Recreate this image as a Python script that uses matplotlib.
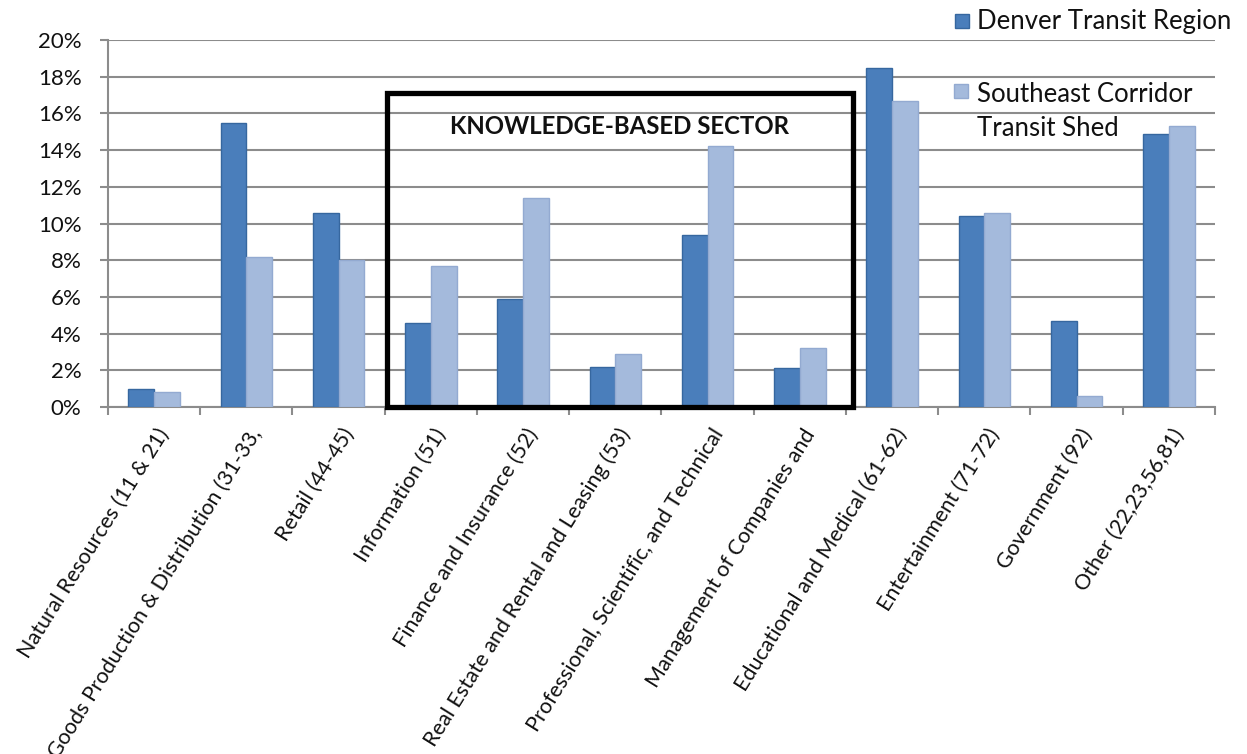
import matplotlib
matplotlib.use("Agg")
import matplotlib.pyplot as plt
from matplotlib.patches import Rectangle
from matplotlib.transforms import ScaledTranslation
import numpy as np

plt.rcParams['font.family'] = ['Lato', 'DejaVu Sans']

categories = [
    "Natural Resources (11 & 21)",
    "Goods Production & Distribution (31-33,",
    "Retail (44-45)",
    "Information (51)",
    "Finance and Insurance (52)",
    "Real Estate and Rental and Leasing (53)",
    "Professional, Scientific, and Technical",
    "Management of Companies and",
    "Educational and Medical (61-62)",
    "Entertainment (71-72)",
    "Government (92)",
    "Other (22,23,56,81)",
]
denver = [1.0, 15.5, 10.6, 4.6, 5.9, 2.2, 9.4, 2.1, 18.5, 10.4, 4.7, 14.9]
southeast = [0.8, 8.2, 8.0, 7.7, 11.4, 2.9, 14.2, 3.2, 16.7, 10.6, 0.6, 15.3]
yticks = [0, 2, 4, 6, 8, 10, 12, 14, 16, 18, 20]
series_names = ["Denver Transit Region", "Southeast Corridor\nTransit Shed"]

dark_fill, dark_edge = "#4a7ebb", "#36679f"
light_fill, light_edge = "#a4badc", "#93aad1"
grid_col = "#8c8c8c"

fig = plt.figure(figsize=(12.47, 7.54), dpi=100)
ax = fig.add_axes([0.0866, 0.4602, 0.8877, 0.4867])

x = np.arange(len(categories))
w = 0.28
ax.bar(x - w / 2, denver, w, color=dark_fill, edgecolor=dark_edge, linewidth=1.0, zorder=3)
ax.bar(x + w / 2, southeast, w, color=light_fill, edgecolor=light_edge, linewidth=1.0, zorder=3)

ax.set_xlim(-0.5, len(categories) - 0.5)
ax.set_ylim(0, 20)
ax.set_yticks(yticks)
ax.set_yticklabels([f"{t}%" for t in yticks], fontsize=16, color="#111111")
ax.yaxis.grid(True, color=grid_col, linewidth=1.5, zorder=0)
ax.set_axisbelow(True)

for s in ["top", "right"]:
    ax.spines[s].set_visible(False)
for s in ["left", "bottom"]:
    ax.spines[s].set_color(grid_col)
    ax.spines[s].set_linewidth(1.5)
ax.tick_params(axis="y", length=6, width=1.5, color=grid_col, pad=13)

ax.set_xticks(x)
ax.set_xticklabels(categories, rotation=58, ha="right", va="top",
                   rotation_mode="anchor", fontsize=15.5, color="#111111")
ax.tick_params(axis="x", length=0, pad=13)
offset = ScaledTranslation(2 / 100, 0, fig.dpi_scale_trans)
for lab in ax.get_xticklabels():
    lab.set_transform(lab.get_transform() + offset)
ax.set_xticks(np.arange(len(categories) + 1) - 0.5, minor=True)
ax.tick_params(axis="x", which="minor", length=6, width=1.5, color=grid_col)

# Knowledge-based sector box
box = Rectangle((2.52, 0), 5.06, 17.1, fill=False, edgecolor="black",
                linewidth=3.8, zorder=5, clip_on=False)
ax.add_patch(box)
ax.text(5.05, 15.3, "KNOWLEDGE-BASED SECTOR", ha="center", va="center",
        fontsize=17.3, fontweight="bold", color="#111111", zorder=6)

# Legend (manual)
W, H = 1247.0, 754.0
def fx(px):
    return px / W
def fy(py):
    return 1 - py / H
fig.patches.append(Rectangle((fx(955), fy(28)), 14 / W, 14 / H, transform=fig.transFigure,
                             facecolor=dark_fill, edgecolor=dark_edge, linewidth=1.0))
fig.text(fx(977), fy(22), series_names[0], ha="left", va="center", fontsize=18.5, color="#111111")
fig.patches.append(Rectangle((fx(954), fy(98)), 14 / W, 14 / H, transform=fig.transFigure,
                             facecolor=light_fill, edgecolor=light_edge, linewidth=1.0))
line1, line2 = series_names[1].split("\n")
fig.text(fx(977), fy(95), line1, ha="left", va="center", fontsize=18.5, color="#111111")
fig.text(fx(977), fy(128), line2, ha="left", va="center", fontsize=18.5, color="#111111")

fig.savefig("out.png", dpi=100)
